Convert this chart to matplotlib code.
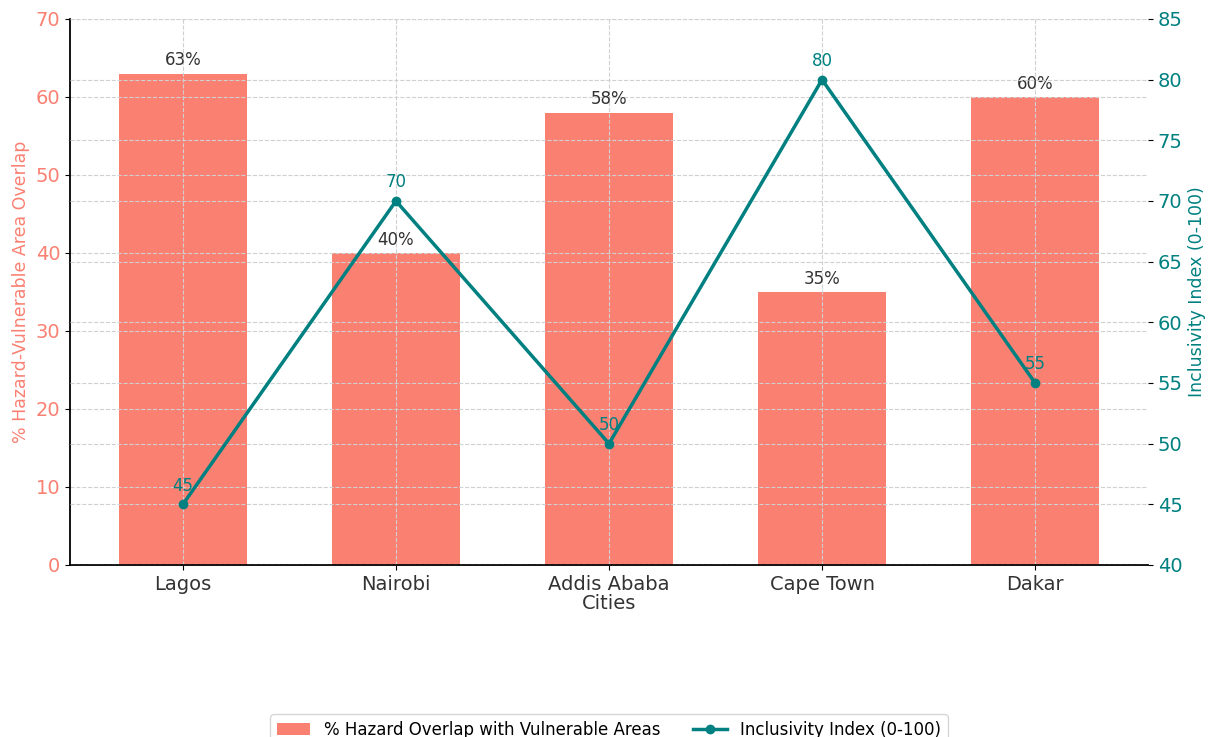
import matplotlib.pyplot as plt

cities = ["Lagos", "Nairobi", "Addis Ababa", "Cape Town", "Dakar"]
hazard_overlap = [63, 40, 58, 35, 60]
inclusivity = [45, 70, 50, 80, 55]

BAR_COLOR = "#FA8072"
LINE_COLOR = "#008080"
TEXT_COLOR = "#333333"

fig = plt.figure(figsize=(12.18, 7.37), dpi=100)
ax1 = fig.add_axes([70 / 1218, 1 - 565 / 737, (1148 - 70) / 1218, (565 - 19) / 737])

x = list(range(len(cities)))
bars = ax1.bar(x, hazard_overlap, width=0.6, color=BAR_COLOR,
               label="% Hazard Overlap with Vulnerable Areas")
ax1.set_ylim(0, 70)
ax1.set_xticks(x)
ax1.set_xticklabels(cities, fontsize=14, color=TEXT_COLOR)
ax1.set_xlabel("Cities", fontsize=14, color=TEXT_COLOR, labelpad=0)
ax1.set_ylabel("% Hazard-Vulnerable Area Overlap", fontsize=12.5, color=BAR_COLOR)
ax1.tick_params(axis="y", labelcolor=BAR_COLOR, labelsize=14)
ax1.grid(True, linestyle="--", color="#d0d0d0", linewidth=0.8)
for s in ("top", "right"):
    ax1.spines[s].set_visible(False)
ax1.spines["left"].set_linewidth(1.3)
ax1.spines["bottom"].set_linewidth(1.3)

for rect, v in zip(bars, hazard_overlap):
    ax1.annotate(f"{v}%", (rect.get_x() + rect.get_width() / 2, v),
                 xytext=(0, 3), textcoords="offset points",
                 ha="center", va="bottom", fontsize=12, color=TEXT_COLOR)

ax2 = ax1.twinx()
ax2.plot(x, inclusivity, color=LINE_COLOR, marker="o", markersize=6,
         linewidth=2.5, label="Inclusivity Index (0-100)")
ax2.set_ylim(40, 85)
ax2.set_ylabel("Inclusivity Index (0-100)", fontsize=12.5, color=LINE_COLOR)
ax2.tick_params(axis="y", labelcolor=LINE_COLOR, labelsize=14)
ax2.grid(True, axis="y", linestyle="--", color="#d0d0d0", linewidth=0.8)
for s in ("top", "right", "left", "bottom"):
    ax2.spines[s].set_visible(False)

for xi, v in zip(x, inclusivity):
    ax2.annotate(f"{v}", (xi, v), xytext=(0, 7), textcoords="offset points",
                 ha="center", va="bottom", fontsize=12, color=LINE_COLOR)

h1, l1 = ax1.get_legend_handles_labels()
h2, l2 = ax2.get_legend_handles_labels()
fig.legend(h1 + h2, l1 + l2, loc="upper center", ncol=2, fontsize=12,
           bbox_to_anchor=(0.5, 1 - 706 / 737), frameon=True)

fig.savefig("out.png", dpi=100)
